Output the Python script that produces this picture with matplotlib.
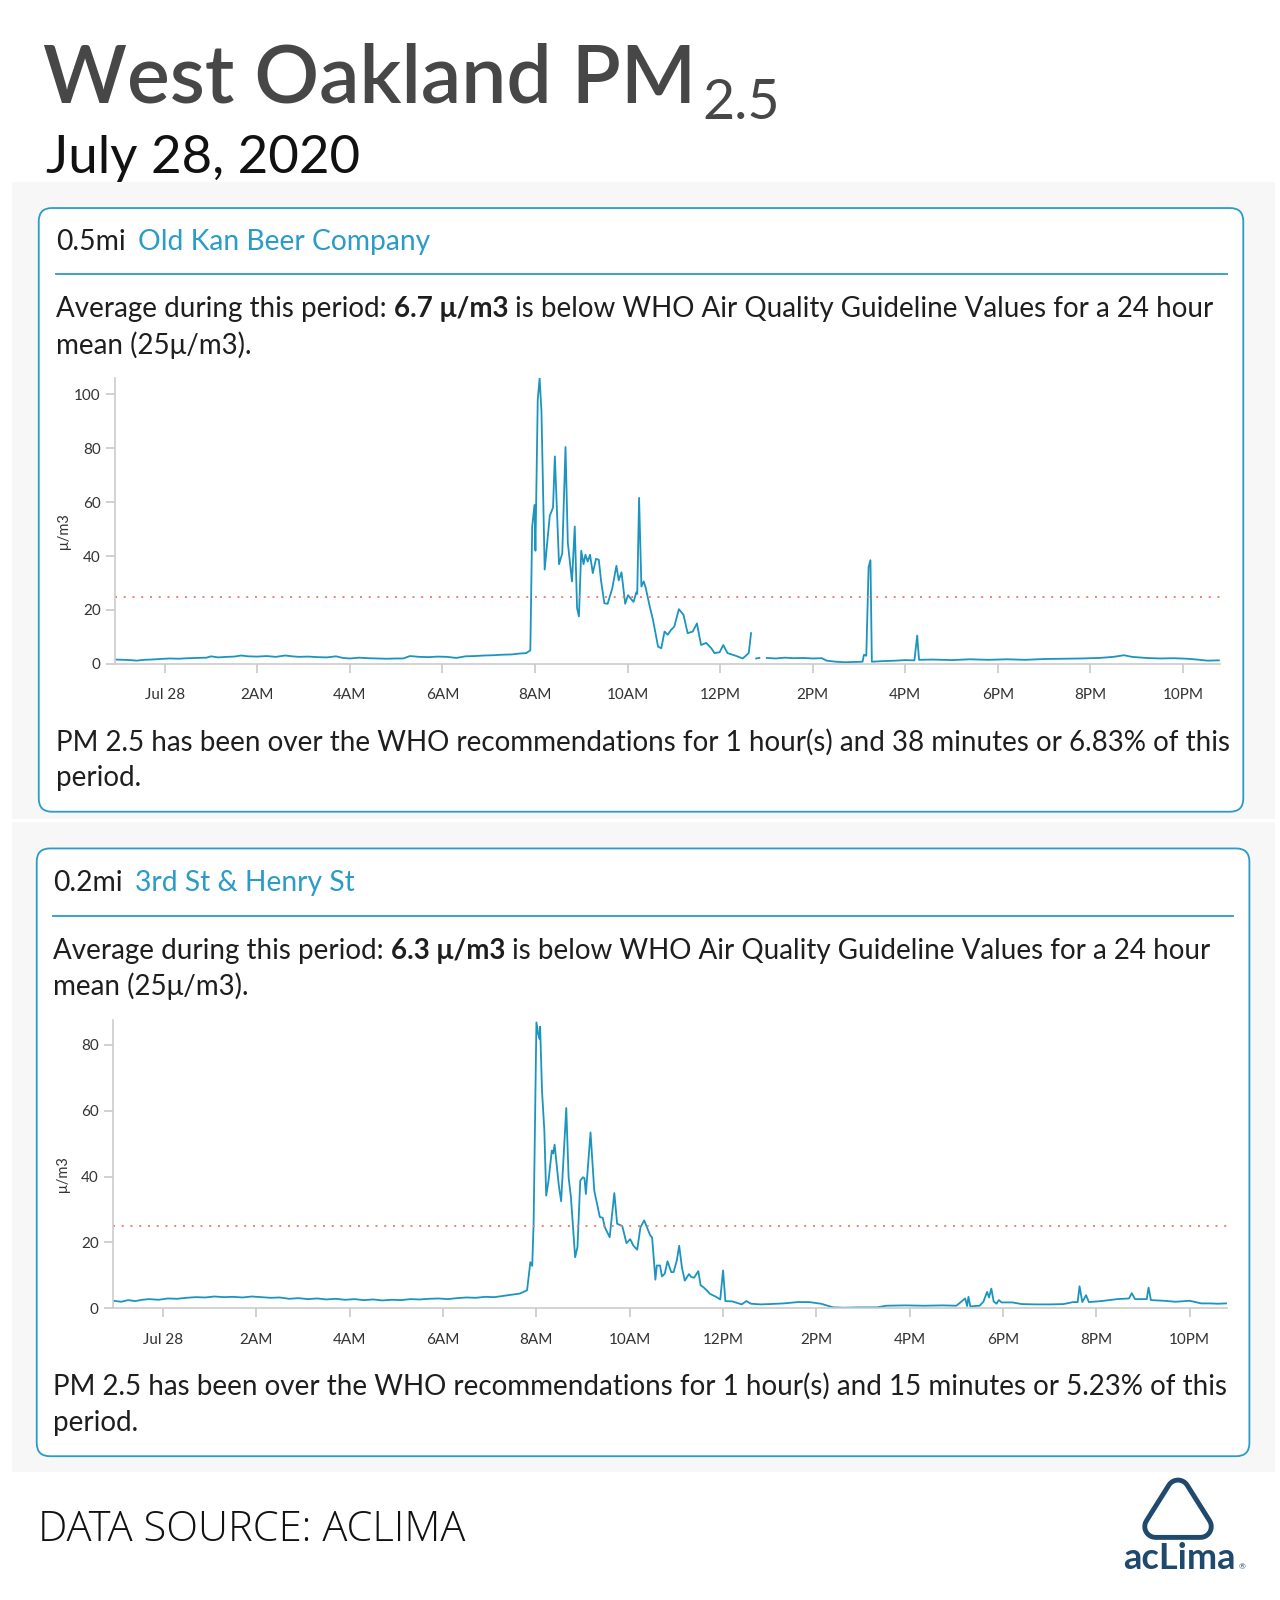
import numpy as np
import matplotlib.pyplot as plt
from matplotlib.patches import FancyBboxPatch, Rectangle, Polygon

plt.rcParams['font.family'] = ['Lato', 'DejaVu Sans']

# ---- data (hours after midnight Jul 28, PM2.5 in µg/m3) ----
tick_hours = list(range(0, 23, 2))
tick_labels = ['Jul 28', '2AM', '4AM', '6AM', '8AM', '10AM', '12PM',
               '2PM', '4PM', '6PM', '8PM', '10PM']

oldkan_hours = [
    -1.07, -0.9, -0.75, -0.6, -0.45, -0.3, -0.1, 0.1, 0.3, 0.5, 0.7, 0.9, 1.0,
    1.15, 1.35, 1.5, 1.65, 1.8, 2.0, 2.2, 2.4, 2.6, 2.75, 2.9, 3.1, 3.3, 3.5,
    3.7, 3.85, 4.0, 4.2, 4.4, 4.6, 4.8, 5.0, 5.15, 5.3, 5.5, 5.7, 5.9, 6.1,
    6.3, 6.5, 6.7, 6.9, 7.1, 7.3, 7.5, 7.65, 7.81, 7.90,
    7.94, 7.99, 8.01, 8.06, 8.10, 8.14, 8.21, 8.32, 8.39, 8.43, 8.52, 8.59,
    8.66, 8.71, 8.80, 8.86, 8.91, 8.95, 9.00, 9.05, 9.09, 9.14, 9.19, 9.25,
    9.32, 9.38, 9.43, 9.50, 9.57, 9.67, 9.76, 9.81, 9.87, 9.95, 10.01, 10.08,
    10.13, 10.19, 10.21, 10.25, 10.30, 10.35, 10.39, 10.48, 10.55, 10.66,
    10.73, 10.80, 10.87, 10.94, 11.01, 11.11, 11.21, 11.30, 11.41, 11.50,
    11.59, 11.70, 11.81, 11.88, 11.99, 12.07, 12.16, 12.34, 12.49, 12.62,
    12.67, 12.72, 12.78, 12.85, 12.93, 13.01, 13.2, 13.4, 13.6, 13.8, 14.0,
    14.2, 14.3, 14.5, 14.7, 14.9, 15.08, 15.11, 15.16, 15.21, 15.25, 15.28,
    15.5, 15.8, 16.0, 16.2, 16.26, 16.3, 16.6, 17.0, 17.4, 17.8, 18.2, 18.6,
    19.0, 19.4, 19.8, 20.2, 20.5, 20.73, 20.9, 21.2, 21.5, 21.8, 22.1, 22.3,
    22.53, 22.78]
oldkan_pm = [
    1.6, 1.5, 1.4, 1.2, 1.5, 1.6, 1.8, 2.0, 1.9, 2.1, 2.2, 2.3, 2.8,
    2.4, 2.6, 2.7, 3.1, 2.8, 2.7, 2.9, 2.6, 3.1, 2.8, 2.6, 2.7, 2.5, 2.4,
    2.8, 2.2, 2.0, 2.3, 2.1, 2.0, 1.9, 2.0, 2.0, 2.9, 2.6, 2.5, 2.7, 2.6,
    2.2, 2.8, 2.9, 3.1, 3.2, 3.4, 3.5, 3.8, 4.0, 5.0,
    51, 59, 42, 98, 106, 94, 35, 55, 58, 77, 37, 41,
    80.5, 45, 30.6, 51, 20.7, 17.6, 42, 37, 40.5, 38, 40.5, 33.7,
    39, 38.6, 30.6, 22.5, 22.3, 28, 36.4, 31, 34, 22.3, 25.5, 24,
    23, 26.5, 26, 61.6, 28.7, 30.6, 28.5, 21.3, 16.4, 6.4,
    5.8, 12, 10.8, 12.6, 13.8, 20.3, 18.2, 11.4, 12, 15,
    7, 7.8, 5.8, 4, 4.3, 7, 4, 3, 2, 4,
    11.4, np.nan, 2.0, 2.2, np.nan, 2.2, 2.0, 2.3, 2.1, 2.2, 2.0,
    2.1, 1.2, 0.8, 0.6, 0.7, 0.8, 3.4, 3.0, 36, 38.5, 0.8,
    1.0, 1.2, 1.4, 1.3, 10.5, 1.5, 1.6, 1.4, 1.7, 1.5, 1.7, 1.5,
    1.8, 1.9, 2.0, 2.2, 2.6, 3.2, 2.6, 2.2, 2.0, 2.1, 1.9, 1.6,
    1.2, 1.3]

henry_hours = [
    -1.06, -0.9, -0.75, -0.6, -0.45, -0.3, -0.1, 0.1, 0.3, 0.5, 0.7, 0.9, 1.1,
    1.3, 1.5, 1.7, 1.9, 2.1, 2.3, 2.5, 2.7, 2.9, 3.1, 3.3, 3.5, 3.7, 3.9, 4.1,
    4.3, 4.5, 4.7, 4.9, 5.1, 5.3, 5.5, 5.7, 5.9, 6.1, 6.3, 6.5, 6.7, 6.9, 7.1,
    7.3, 7.5, 7.65, 7.80, 7.87, 7.91, 7.94, 8.00, 8.04, 8.07, 8.08, 8.12, 8.17,
    8.21, 8.26, 8.33, 8.36, 8.39, 8.48, 8.53, 8.64, 8.69, 8.74, 8.83, 8.88,
    8.94, 9.00, 9.03, 9.06, 9.16, 9.24, 9.36, 9.42, 9.47, 9.57, 9.67, 9.73,
    9.84, 9.93, 10.01, 10.08, 10.16, 10.23, 10.31, 10.40, 10.44, 10.48, 10.55,
    10.58, 10.65, 10.69, 10.75, 10.81, 10.89, 10.94, 11.01, 11.06, 11.12,
    11.18, 11.27, 11.32, 11.38, 11.47, 11.52, 11.58, 11.65, 11.72, 11.85,
    11.94, 12.0, 12.05, 12.2, 12.4, 12.5, 12.6, 12.8, 13.0, 13.3, 13.6, 13.85,
    14.1, 14.36, 14.6, 14.9, 15.3, 15.5, 15.9, 16.3, 16.7, 17.0, 17.19, 17.23,
    17.26, 17.30, 17.5, 17.58, 17.66, 17.70, 17.75, 17.80, 17.86, 17.91,
    17.97, 18.2, 18.4, 18.7, 19.0, 19.3, 19.5, 19.6, 19.64, 19.70, 19.78,
    19.84, 20.1, 20.45, 20.70, 20.76, 20.83, 21.08, 21.12, 21.17, 21.45,
    21.7, 22.0, 22.25, 22.44, 22.6, 22.78]
henry_pm = [
    2.3, 2.0, 2.5, 2.2, 2.6, 2.8, 2.6, 3.0, 2.9, 3.2, 3.4, 3.3, 3.6,
    3.4, 3.5, 3.3, 3.6, 3.4, 3.2, 3.3, 2.9, 3.1, 2.8, 3.0, 2.7, 2.9, 2.6, 2.8,
    2.5, 2.7, 2.4, 2.6, 2.5, 2.8, 2.7, 2.9, 3.0, 2.8, 3.1, 3.3, 3.2, 3.5, 3.4,
    3.8, 4.2, 4.5, 5.5, 14, 12.9, 25.7, 86.8, 83.2, 81.7, 85.5, 66, 54,
    34.2, 38.8, 47.9, 47, 49.7, 37.3, 32.5, 60.8, 39.8, 33.7, 15.5, 18.6,
    38.8, 39.8, 39.5, 34.7, 53.4, 35.7, 27.7, 27.5, 24.5, 21.6, 35, 25.7,
    25, 19.8, 21, 19, 17.8, 24.6, 26.7, 23.5, 22.1, 21.5, 8.7,
    13, 13, 9.7, 10.5, 14.3, 11, 11, 14.6, 19, 12.3,
    8.4, 10.4, 9.5, 9.3, 11.3, 7, 6.4, 5.5, 4.4, 3.5,
    2.7, 11.5, 2.2, 2.1, 1.2, 2.2, 1.4, 1.2, 1.3, 1.5, 1.9, 1.9,
    1.4, 0.3, 0.2, 0.3, 0.3, 0.8, 0.9, 0.8, 0.9, 0.8, 3.0, 0.7,
    3.5, 0.6, 0.8, 2.0, 5.0, 3.3, 6.0, 2.1, 1.4, 2.5,
    1.8, 1.8, 1.3, 1.2, 1.2, 1.3, 1.9, 1.9, 6.7, 1.9, 4.0,
    1.9, 2.2, 2.8, 3.0, 4.6, 2.8, 2.8, 6.3, 2.5, 2.3,
    2.0, 2.3, 1.5, 1.5, 1.4, 1.5]

# ---- style ----
BLUE = '#2b9bc8'
LINE = '#1b94c0'
NAVY = '#1f4a6e'
TXT = '#1e1e1e'
BODY = 20
W, H = 1255, 1569          # layout units (≈ pixels of the reference)

fig = plt.figure(figsize=(12.8, 16), dpi=100)
bg = fig.add_axes([0, 0, 1, 1], zorder=0)
bg.set_xlim(0, W)
bg.set_ylim(H, 0)
bg.axis('off')
r = fig.canvas.get_renderer()


def text_w(t):
    return t.get_window_extent(renderer=r).width * W / 1280


def run(x, y, parts, size):
    # parts: (text, weight) drawn one after another with a space between
    probe = bg.text(0, 0, 'a a', fontsize=size)
    probe2 = bg.text(0, 0, 'aa', fontsize=size)
    sp = text_w(probe) - text_w(probe2)
    probe.remove()
    probe2.remove()
    for s, wt in parts:
        t = bg.text(x, y, s, fontsize=size, fontweight=wt, color=TXT, va='baseline')
        x += text_w(t) + sp


# header
t = bg.text(42, 101, 'West Oakland PM', fontsize=58, fontweight='semibold',
            color='#474747', va='baseline')
bg.text(42 + text_w(t) + 6, 117, '2.5', fontsize=40, color='#474747',
        va='baseline')
bg.text(45, 170, 'July 28, 2020', fontsize=38, color='#111111', va='baseline')

# grey panels and cards
bg.add_patch(Rectangle((12, 178), 1238, 625, fc='#f7f7f7', ec='none'))
bg.add_patch(Rectangle((12, 806), 1238, 637, fc='#f7f7f7', ec='none'))

cards = [
    dict(box=(38, 204, 1181, 592), tx=55, dist='0.5mi', name='Old Kan Beer Company',
         avg='6.7 μ/m3', over='1 hour(s) and 38 minutes or 6.83% of this',
         ys=(245, 269, 311, 347, 736, 771)),
    dict(box=(36, 832, 1189, 596), tx=52, dist='0.2mi', name='3rd St & Henry St',
         avg='6.3 μ/m3', over='1 hour(s) and 15 minutes or 5.23% of this',
         ys=(874, 898, 940, 976, 1368, 1403)),
]
for c in cards:
    x0, y0, w, h = c['box']
    bg.add_patch(FancyBboxPatch((x0, y0), w, h,
                                boxstyle='round,pad=0,rounding_size=13',
                                fc='white', ec=BLUE, lw=1.3))
    tx = c['tx']
    yh, yd, y1, y2, y3, y4 = c['ys']
    bg.text(tx, yh, c['dist'], fontsize=20.3, color=TXT, va='baseline')
    bg.text(tx + 80, yh, c['name'], fontsize=20.3, color=BLUE, va='baseline')
    bg.plot([tx, x0 + w - 16], [yd, yd], color=BLUE, lw=1.3)
    run(tx, y1, [('Average during this period:', 'normal'), (c['avg'], 'bold'),
                 ('is below WHO Air Quality Guideline Values for a 24 hour', 'normal')],
        BODY)
    bg.text(tx, y2, 'mean (25μ/m3).', fontsize=BODY, color=TXT, va='baseline')
    bg.text(tx, y3, 'PM 2.5 has been over the WHO recommendations for ' + c['over'],
            fontsize=BODY, color=TXT, va='baseline')
    bg.text(tx, y4, 'period.', fontsize=BODY, color=TXT, va='baseline')


def chart(left, right, bottom, top, hours, vals, ymax, yticks, ylab_x):
    ax = fig.add_axes([left / W, 1 - bottom / H, (right - left) / W, (bottom - top) / H],
                      zorder=2)
    ax.set_facecolor('none')
    ax.plot(hours, vals, color=LINE, lw=1.3)
    ax.axhline(25, color='#f3806c', lw=1.4, ls=(0, (1, 3.5)))
    ax.set_xlim(-1.07, 22.8)
    ax.set_ylim(0, ymax)
    ax.set_xticks(tick_hours)
    ax.set_xticklabels(tick_labels)
    ax.set_yticks(yticks)
    for s in ['top', 'right']:
        ax.spines[s].set_visible(False)
    for s in ['left', 'bottom']:
        ax.spines[s].set_color('#cccccc')
        ax.spines[s].set_linewidth(1.2)
    ax.tick_params(color='#c4c4c4', length=6.5, width=1.1, labelsize=11,
                   labelcolor='#333333')
    ax.tick_params(axis='x', pad=11)
    ax.tick_params(axis='y', pad=4)
    bg.text(ylab_x, (top + bottom) / 2 + 10, 'μ/m3', rotation=90, fontsize=10.5,
            color='#333333', ha='center', va='center')
    return ax


chart(113, 1196, 651, 371, oldkan_hours, oldkan_pm, 106, [0, 20, 40, 60, 80, 100], 63)
chart(111, 1203, 1283, 1000, henry_hours, henry_pm, 87.6, [0, 20, 40, 60, 80], 62)

# footer
bg.text(37, 1511, 'DATA SOURCE: ACLIMA', fontsize=30, fontweight='light',
        family=['Open Sans', 'Lato'], color='#111111', va='baseline')


def rounded_tri(core, rad):
    pts = []
    n = len(core)
    for i in range(n):
        p = np.array(core[i - 1])
        v = np.array(core[i])
        q = np.array(core[(i + 1) % n])
        e1 = v - p
        e2 = q - v
        n1 = np.array([e1[1], -e1[0]]) / np.hypot(*e1)
        n2 = np.array([e2[1], -e2[0]]) / np.hypot(*e2)
        a1 = np.arctan2(n1[1], n1[0])
        a2 = np.arctan2(n2[1], n2[0])
        d = (a2 - a1 + np.pi) % (2 * np.pi) - np.pi
        for a in np.linspace(a1, a1 + d, 12):
            pts.append(v + rad * np.array([np.cos(a), np.sin(a)]))
    return np.array(pts)


core = [(1155, 1462), (1177, 1497), (1133, 1497)]
bg.add_patch(Polygon(rounded_tri(core, 13), closed=True, fc=NAVY, ec='none'))
bg.add_patch(Polygon(rounded_tri(core, 8.2), closed=True, fc='white', ec='none'))
bg.text(1156, 1539, 'acLima', fontsize=26, fontweight='bold', color=NAVY,
        ha='center', va='baseline')
bg.text(1214, 1539, '®', fontsize=6, color=NAVY, va='baseline')

fig.savefig('out.png', dpi=100)
